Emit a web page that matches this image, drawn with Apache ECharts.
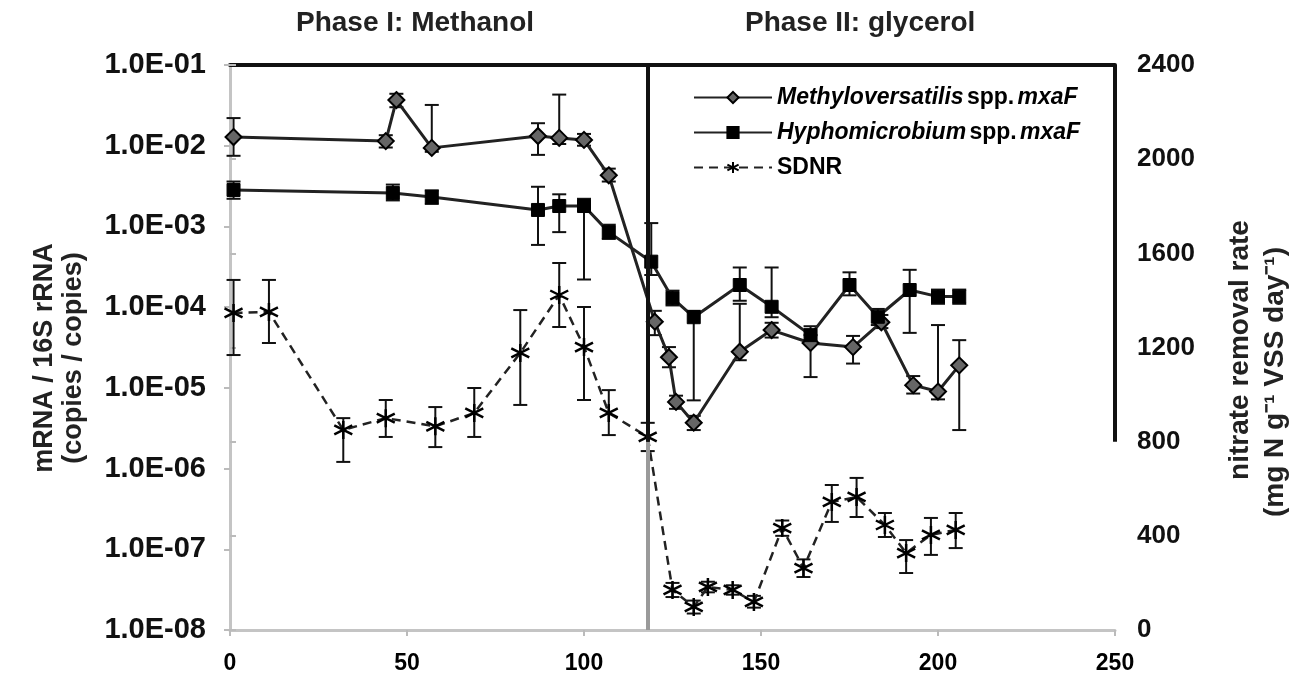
<!DOCTYPE html>
<html>
<head>
<meta charset="utf-8">
<script src="https://cdn.jsdelivr.net/npm/echarts@6/dist/echarts.min.js"></script>
<style>
  html, body { margin: 0; padding: 0; background: #fff; }
  #chart { width: 1294px; height: 691px; }
</style>
</head>
<body>
<div id="chart"></div>
<script>
// ---- tick labels ----
const xTickValues = [0, 50, 100, 150, 200, 250];
const leftTickLabels = ['1.0E-08', '1.0E-07', '1.0E-06', '1.0E-05', '1.0E-04', '1.0E-03', '1.0E-02', '1.0E-01'];
const rightTickValues = [0, 400, 800, 1200, 1600, 2000, 2400];

// ---- phase boundary (day) ----
const phaseSwitchDay = 118;

// ---- Methyloversatilis spp. mxaF (mRNA / 16S rRNA) ----
const daysMv = [1, 44, 47, 57, 87, 93, 100, 107, 120, 124, 126, 131, 144, 153, 164, 176, 184, 193, 200, 206];
const mxaFMv = [1.28e-2, 1.14e-2, 3.68e-2, 9.4e-3, 1.32e-2, 1.25e-2, 1.18e-2, 4.3e-3,
                6.6e-5, 2.4e-5, 6.7e-6, 3.7e-6, 2.8e-5, 5.2e-5, 3.6e-5, 3.2e-5, 6.5e-5, 1.08e-5, 9.0e-6, 1.9e-5];
const mxaFMvLow = [7.5e-3, 9.5e-3, 3.0e-2, 8.4e-3, 7.7e-3, 1.05e-2, 1.0e-2, 3.6e-3,
                   4.5e-5, 1.8e-5, 5.5e-6, 3.0e-6, 2.2e-5, 4.2e-5, 1.36e-5, 2.0e-5, 5.5e-5, 8.5e-6, 7.2e-6, 3.0e-6];
const mxaFMvHigh = [2.2e-2, 1.35e-2, 4.4e-2, 3.2e-2, 1.9e-2, 4.3e-2, 1.4e-2, 5.2e-3,
                    9.0e-5, 3.2e-5, 8.0e-6, 4.5e-6, 1.1e-4, 6.4e-5, 4.5e-5, 4.4e-5, 8.0e-5, 1.4e-5, 6.0e-5, 3.9e-5];

// ---- Hyphomicrobium spp. mxaF (mRNA / 16S rRNA) ----
const daysHy = [1, 46, 57, 87, 93, 100, 107, 119, 125, 131, 144, 153, 164, 175, 183, 192, 200, 206];
const mxaFHy = [2.83e-3, 2.6e-3, 2.32e-3, 1.6e-3, 1.79e-3, 1.79e-3, 8.5e-4,
                3.66e-4, 1.29e-4, 7.5e-5, 1.88e-4, 1.01e-4, 4.5e-5, 1.88e-4, 7.6e-5, 1.63e-4, 1.35e-4, 1.35e-4];
const mxaFHyLow = [2.2e-3, 2.1e-3, 1.9e-3, 5.9e-4, 8.5e-4, 2.2e-4, 7.0e-4,
                   2.5e-4, 1.05e-4, 7.0e-6, 1.2e-4, 7.5e-5, 3.5e-5, 1.4e-4, 6.0e-5, 4.8e-5, 1.1e-4, 1.1e-4];
const mxaFHyHigh = [3.6e-3, 3.3e-3, 2.8e-3, 3.1e-3, 2.5e-3, 2.2e-3, 1.05e-3,
                    1.1e-3, 1.6e-4, 9.0e-5, 3.1e-4, 3.1e-4, 5.8e-5, 2.7e-4, 9.5e-5, 2.9e-4, 1.65e-4, 1.65e-4];

// ---- SDNR (mg N g-1 VSS day-1) ----
const daysSdnr = [1, 11, 32, 44, 58, 69, 82, 93, 100, 107, 118, 125, 131, 135, 142, 148, 156, 162, 170, 177, 185, 191, 198, 205];
const sdnr = [1347, 1351, 850, 900, 865, 922, 1177, 1423, 1202, 922, 820,
              170, 98, 183, 170, 119, 433, 263, 544, 565, 446, 327, 404, 425];
const sdnrLow = [1168, 1219, 714, 820, 777, 820, 956, 1287, 977, 828, 760,
                 140, 70, 160, 150, 95, 400, 225, 459, 480, 395, 242, 319, 348];
const sdnrHigh = [1487, 1487, 900, 977, 947, 1028, 1359, 1559, 1372, 1019, 880,
                  200, 125, 205, 190, 145, 465, 300, 616, 646, 497, 382, 476, 497];

const FONT = '"Liberation Sans", Arial, sans-serif';

function pairs(xs, ys) { return xs.map((d, i) => [d, ys[i]]); }

// vertical error bars with caps, drawn through the axes' own coordinate system
function errorBars(xs, lo, hi, yAxisIndex) {
  return {
    type: 'custom',
    yAxisIndex: yAxisIndex,
    silent: true,
    z: 3,
    data: xs.map((d, i) => [d, lo[i], hi[i]]),
    encode: { x: 0, y: [1, 2] },
    renderItem: function (params, api) {
      const x = api.value(0);
      const a = api.coord([x, api.value(1)]);
      const b = api.coord([x, api.value(2)]);
      const w = 7;
      const st = { stroke: '#111', lineWidth: 2 };
      return {
        type: 'group',
        children: [
          { type: 'line', shape: { x1: a[0], y1: a[1], x2: b[0], y2: b[1] }, style: st },
          { type: 'line', shape: { x1: a[0] - w, y1: a[1], x2: a[0] + w, y2: a[1] }, style: st },
          { type: 'line', shape: { x1: b[0] - w, y1: b[1], x2: b[0] + w, y2: b[1] }, style: st }
        ]
      };
    }
  };
}

const legendText = {
  'Methyloversatilis spp. mxaF': '{i|Methyloversatilis} {n|spp.} {i|mxaF}',
  'Hyphomicrobium spp. mxaF': '{i|Hyphomicrobium} {n|spp.} {i|mxaF}',
  'SDNR': '{n|SDNR}'
};

const asterisk = 'path://M10,0L10,20M1.34,5L18.66,15M1.34,15L18.66,5';

const chart = echarts.init(document.getElementById('chart'));
chart.setOption({
  animation: false,
  backgroundColor: '#fff',
  textStyle: { fontFamily: FONT },
  grid: { left: 230, right: 179, top: 65, bottom: 61 },
  legend: {
    orient: 'vertical',
    left: 688,
    top: 81,
    itemWidth: 78,
    itemHeight: 14,
    itemGap: 12,
    data: ['Methyloversatilis spp. mxaF', 'Hyphomicrobium spp. mxaF', 'SDNR'],
    formatter: name => legendText[name],
    textStyle: {
      color: '#000',
      rich: {
        i: { fontFamily: FONT, fontStyle: 'italic', fontWeight: 'bold', fontSize: 23, color: '#000' },
        n: { fontFamily: FONT, fontWeight: 'bold', fontSize: 23, color: '#000' }
      }
    }
  },
  graphic: [
    { type: 'text', left: 296, top: 9, style: { text: 'Phase I: Methanol', font: 'bold 28px ' + FONT, fill: '#222' } },
    { type: 'text', left: 745, top: 9, style: { text: 'Phase II: glycerol', font: 'bold 28px ' + FONT, fill: '#222' } },
    { type: 'text', x: 45, y: 358, rotation: Math.PI / 2,
      style: { text: 'mRNA / 16S rRNA', font: 'bold 27px ' + FONT, fill: '#222', align: 'center', verticalAlign: 'middle' } },
    { type: 'text', x: 74, y: 358, rotation: Math.PI / 2,
      style: { text: '(copies / copies)', font: 'bold 27px ' + FONT, fill: '#222', align: 'center', verticalAlign: 'middle' } },
    { type: 'text', x: 1240, y: 350, rotation: Math.PI / 2,
      style: { text: 'nitrate removal rate', font: 'bold 28px ' + FONT, fill: '#222', align: 'center', verticalAlign: 'middle' } },
    { type: 'text', x: 1275, y: 382, rotation: Math.PI / 2,
      style: { text: '(mg N g\u207B\u00B9 VSS day\u207B\u00B9)', font: 'bold 28px ' + FONT, fill: '#222', align: 'center', verticalAlign: 'middle' } }
  ],
  xAxis: [
    {
      type: 'value', min: 0, max: 250, interval: 50,
      axisLine: { lineStyle: { color: '#c4c4c4', width: 3 } },
      axisTick: { show: true, length: 6, lineStyle: { color: '#bbb', width: 2 } },
      axisLabel: {
        margin: 22, color: '#000', fontSize: 23, fontWeight: 'bold', fontFamily: FONT,
        formatter: v => (xTickValues.indexOf(v) >= 0 ? String(v) : '')
      },
      splitLine: { show: false }
    },
    {
      type: 'value', min: 0, max: 250, position: 'top',
      axisLine: { lineStyle: { color: '#111', width: 4 } },
      axisTick: { show: false }, axisLabel: { show: false }, splitLine: { show: false }
    }
  ],
  yAxis: [
    {
      type: 'log', logBase: 10, min: 1e-8, max: 1e-1,
      axisLine: { show: true, lineStyle: { color: '#c4c4c4', width: 3 } },
      axisTick: { show: true, length: 6, lineStyle: { color: '#bbb', width: 2 } },
      minorTick: { show: false },
      axisLabel: {
        margin: 24, color: '#111', fontSize: 29, fontWeight: 'bold', fontFamily: FONT,
        formatter: v => leftTickLabels[Math.round(Math.log10(v)) + 8] || ''
      },
      splitLine: { show: false }
    },
    {
      type: 'value', min: 0, max: 2400, interval: 400, position: 'right',
      axisLine: { show: true, lineStyle: { color: '#c4c4c4', width: 3 } },
      axisTick: { show: true, length: 6, lineStyle: { color: '#bbb', width: 2 } },
      axisLabel: {
        margin: 22, color: '#111', fontSize: 26, fontWeight: 'bold', fontFamily: FONT,
        formatter: v => (rightTickValues.indexOf(v) >= 0 ? String(v) : '')
      },
      splitLine: { show: false }
    }
  ],
  series: [
    errorBars(daysMv, mxaFMvLow, mxaFMvHigh, 0),
    errorBars(daysHy, mxaFHyLow, mxaFHyHigh, 0),
    errorBars(daysSdnr, sdnrLow, sdnrHigh, 1),
    {
      name: 'Methyloversatilis spp. mxaF',
      type: 'line', yAxisIndex: 0, z: 4,
      data: pairs(daysMv, mxaFMv),
      symbol: 'diamond', symbolSize: 16,
      lineStyle: { color: '#222', width: 3 },
      itemStyle: { color: '#666', borderColor: '#000', borderWidth: 2 }
    },
    {
      name: 'Hyphomicrobium spp. mxaF',
      type: 'line', yAxisIndex: 0, z: 4,
      data: pairs(daysHy, mxaFHy),
      symbol: 'rect', symbolSize: 13,
      lineStyle: { color: '#222', width: 3 },
      itemStyle: { color: '#000', borderColor: '#000', borderWidth: 1 }
    },
    {
      name: 'SDNR',
      type: 'line', yAxisIndex: 1, z: 4,
      data: pairs(daysSdnr, sdnr),
      symbol: asterisk, symbolSize: 18,
      lineStyle: { color: '#222', width: 2.5, type: [9, 6] },
      itemStyle: { color: '#000', borderColor: '#000', borderWidth: 2.5 },
      markLine: {
        silent: true, symbol: 'none', label: { show: false },
        data: [
          [{ coord: [phaseSwitchDay, 0], lineStyle: { color: '#9a9a9a', width: 4, type: 'solid' } },
           { coord: [phaseSwitchDay, 800] }],
          [{ coord: [phaseSwitchDay, 800], lineStyle: { color: '#111', width: 4, type: 'solid' } },
           { coord: [phaseSwitchDay, 2400] }],
          [{ coord: [250, 800], lineStyle: { color: '#111', width: 4, type: 'solid' } },
           { coord: [250, 2400] }]
        ]
      }
    }
  ]
});
</script>
</body>
</html>
